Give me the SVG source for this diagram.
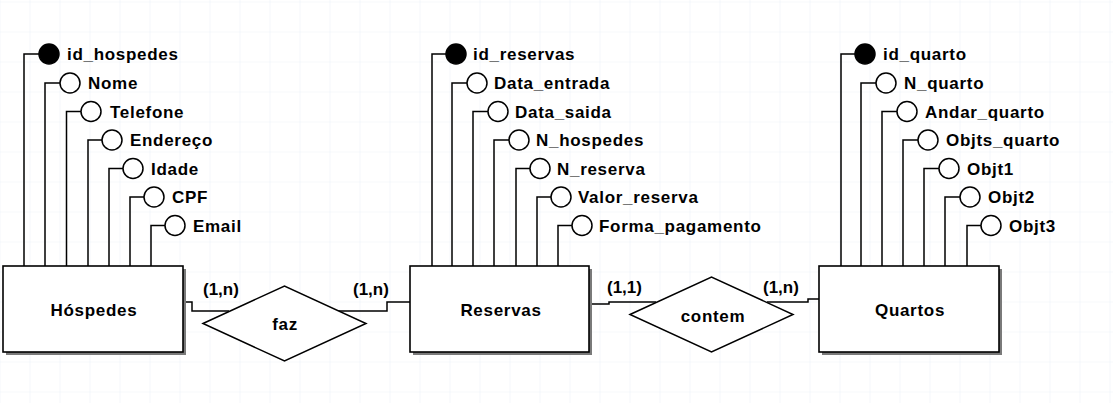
<svg xmlns="http://www.w3.org/2000/svg" width="1113" height="403" viewBox="0 0 1113 403">
  <defs>
    <pattern id="grid" x="29.5" y="1.5" width="30" height="30" patternUnits="userSpaceOnUse">
      <path d="M0 0 H30 M0 0 V30" fill="none" stroke="#edf2f8" stroke-width="1.2"/>
    </pattern>
  </defs>
  <style>
    .ent { fill: #ffffff; stroke: #000000; stroke-width: 1.6; }
    .shadow { fill: #7a7a7a; }
    .rel { fill: #ffffff; stroke: #000000; stroke-width: 1.5; }
    .ln { fill: none; stroke: #000000; stroke-width: 1.5; }
    .att { fill: #ffffff; stroke: #000000; stroke-width: 1.5; }
    .key { fill: #000000; stroke: #000000; stroke-width: 1.5; }
    text { font-family: "Liberation Sans", Arial, sans-serif; font-weight: bold; font-size: 17px; fill: #000000; }
    .al { letter-spacing: 0.7px; }
    .cl { letter-spacing: 0px; }
    .mid { text-anchor: middle; letter-spacing: 0.7px; }
  </style>
  <rect width="1113" height="403" fill="#ffffff"/>
  <rect width="1113" height="403" fill="url(#grid)"/>

  <g id="connectors">
    <polyline class="ln" points="183,302 192,302 192,311 229,311"/>
    <polyline class="ln" points="338,311 387,311 387,302 410,302"/>
    <polyline class="ln" points="590,304 609,304 609,302 656,302"/>
    <polyline class="ln" points="767,302 808,302 808,299 819,299"/>
  </g>

  <g id="hospedes">
    <rect class="shadow" x="6" y="269" width="180" height="86"/>
    <rect class="ent" x="3" y="266" width="180" height="86"/>
    <text class="mid" x="94" y="316">Hóspedes</text>
    <g id="hospedes-attrs">
      <path class="ln" d="M24 266 V54 H39 M45 266 V83 H60 M66.5 266 V111.5 H81 M88 266 V140 H102 M109 266 V168.5 H123 M130 266 V197 H144 M151 266 V225.5 H165"/>
      <circle class="key" cx="49" cy="54" r="10"/>
      <circle class="att" cx="70" cy="83" r="10"/>
      <circle class="att" cx="91" cy="111.5" r="10"/>
      <circle class="att" cx="112" cy="140" r="10"/>
      <circle class="att" cx="133" cy="168.5" r="10"/>
      <circle class="att" cx="154" cy="197" r="10"/>
      <circle class="att" cx="175" cy="225.5" r="10"/>
      <text class="al" x="67" y="60">id_hospedes</text>
      <text class="al" x="88" y="89">Nome</text>
      <text class="al" x="110" y="117.5">Telefone</text>
      <text class="al" x="130" y="146">Endereço</text>
      <text class="al" x="151" y="174.5">Idade</text>
      <text class="al" x="172" y="203">CPF</text>
      <text class="al" x="193" y="231.5">Email</text>
    </g>
  </g>

  <g id="reservas">
    <rect class="shadow" x="413" y="269" width="179" height="86"/>
    <rect class="ent" x="410" y="266" width="179" height="86"/>
    <text class="mid" x="501" y="316">Reservas</text>
    <g id="reservas-attrs">
      <path class="ln" d="M432 266 V54 H446 M452 266 V83 H467 M473 266 V111.5 H488 M494 266 V140 H509 M516 266 V168.5 H530 M537 266 V197 H551 M558 266 V225.5 H572"/>
      <circle class="key" cx="456" cy="54" r="10"/>
      <circle class="att" cx="477" cy="83" r="10"/>
      <circle class="att" cx="498" cy="111.5" r="10"/>
      <circle class="att" cx="519" cy="140" r="10"/>
      <circle class="att" cx="540" cy="168.5" r="10"/>
      <circle class="att" cx="561" cy="197" r="10"/>
      <circle class="att" cx="582" cy="225.5" r="10"/>
      <text class="al" x="473" y="60">id_reservas</text>
      <text class="al" x="494" y="89">Data_entrada</text>
      <text class="al" x="515" y="117.5">Data_saida</text>
      <text class="al" x="536" y="146">N_hospedes</text>
      <text class="al" x="557" y="174.5">N_reserva</text>
      <text class="al" x="578" y="203">Valor_reserva</text>
      <text class="al" x="599" y="231.5">Forma_pagamento</text>
    </g>
  </g>

  <g id="quartos">
    <rect class="shadow" x="822" y="269" width="180" height="86"/>
    <rect class="ent" x="819" y="266" width="180" height="86"/>
    <text class="mid" x="910" y="316">Quartos</text>
    <g id="quartos-attrs">
      <path class="ln" d="M841 266 V54 H855 M861 266 V83 H876 M882 266 V111.5 H897 M903 266 V140 H918 M924 266 V168.5 H939 M945 266 V197 H960 M967 266 V225.5 H981"/>
      <circle class="key" cx="865" cy="54" r="10"/>
      <circle class="att" cx="886" cy="83" r="10"/>
      <circle class="att" cx="907" cy="111.5" r="10"/>
      <circle class="att" cx="928" cy="140" r="10"/>
      <circle class="att" cx="949" cy="168.5" r="10"/>
      <circle class="att" cx="970" cy="197" r="10"/>
      <circle class="att" cx="991" cy="225.5" r="10"/>
      <text class="al" x="883" y="60">id_quarto</text>
      <text class="al" x="904" y="89">N_quarto</text>
      <text class="al" x="925" y="117.5">Andar_quarto</text>
      <text class="al" x="946" y="146">Objts_quarto</text>
      <text class="al" x="967" y="174.5">Objt1</text>
      <text class="al" x="988" y="203">Objt2</text>
      <text class="al" x="1009" y="231.5">Objt3</text>
    </g>
  </g>

  <g id="faz">
    <polygon class="rel" points="203,323.5 284.5,286 366,323.5 284.5,361"/>
    <text class="mid" x="285" y="330">faz</text>
  </g>

  <g id="contem">
    <polygon class="rel" points="630,314.5 711.5,277 793,314.5 711.5,352"/>
    <text class="mid" x="713" y="321.5">contem</text>
  </g>

  <g id="cardinalities">
    <text class="cl" x="203" y="295">(1,n)</text>
    <text class="cl" x="353" y="295">(1,n)</text>
    <text class="cl" x="607" y="293">(1,1)</text>
    <text class="cl" x="763" y="293">(1,n)</text>
  </g>
</svg>
